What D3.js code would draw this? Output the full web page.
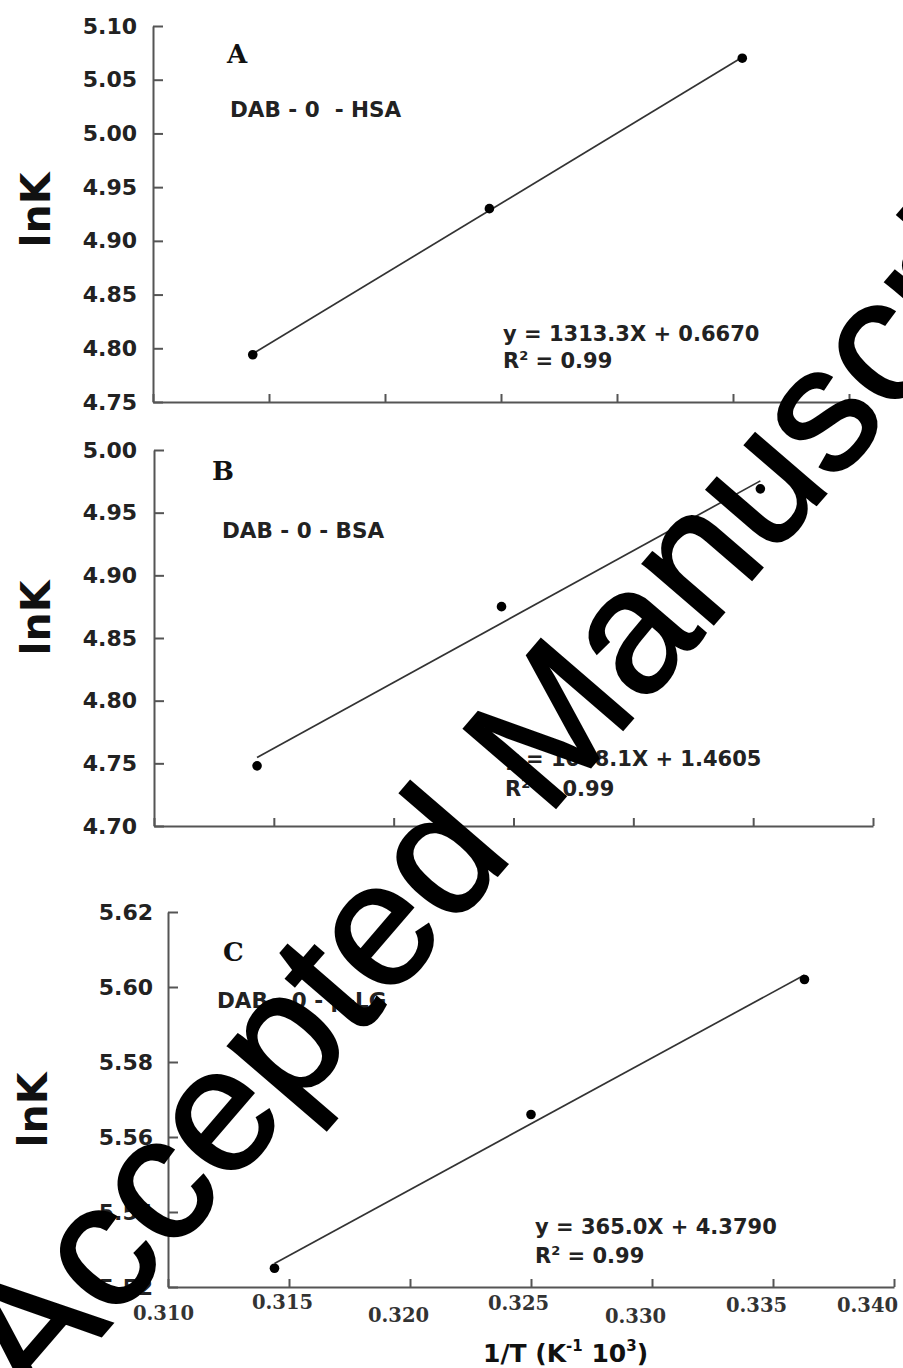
<!DOCTYPE html>
<html>
<head>
<meta charset="utf-8">
<script src="https://cdn.jsdelivr.net/npm/d3@7/dist/d3.min.js"></script>
<style>
    html, body { margin: 0; padding: 0; background: #fff; }
    svg { display: block; }
    .axis path, .axis line { stroke: #555; stroke-width: 2; }
    .ytick text { font-family: "DejaVu Sans", sans-serif; font-weight: bold; font-size: 22px; fill: #222; }
    .xtick text { font-family: "DejaVu Serif", serif; font-weight: bold; font-size: 19.5px; fill: #333; }
</style>
</head>
<body>
<div id="chart"></div>
<script>
        //-------------------------- data --------------------------
        var xTickValues = [0.310, 0.315, 0.320, 0.325, 0.330, 0.335, 0.340];
        var yTicksA = [4.75, 4.80, 4.85, 4.90, 4.95, 5.00, 5.05, 5.10];
        var yTicksB = [4.70, 4.75, 4.80, 4.85, 4.90, 4.95, 5.00];
        var yTicksC = [5.52, 5.54, 5.56, 5.58, 5.60, 5.62];

        // 1/T values and lnK values per protein
        var invT_HSA = [0.3143, 0.3245, 0.3354];
        var lnK_HSA = [4.794, 4.930, 5.070];
        var invT_BSA = [0.3143, 0.3245, 0.3353];
        var lnK_BSA = [4.748, 4.875, 4.969];
        var invT_BLG = [0.3144, 0.3250, 0.3363];
        var lnK_BLG = [5.525, 5.566, 5.602];

        var panelLetters = ["A", "B", "C"];
        var systemNames = ["DAB - 0  - HSA", "DAB - 0 - BSA", "DAB - 0 - \u03B2-LG"];
        var equations = ["y = 1313.3X + 0.6670", "y = 1048.1X + 1.4605", "y = 365.0X + 4.3790"];
        var r2Values = ["0.99", "0.99", "0.99"];
        //-------------------------- layout --------------------------
        var W = 903, H = 1368;
        var panels = [
            { left: 153, right: 849, top: 26, bottom: 402, yTicks: yTicksA, xs: invT_HSA, ys: lnK_HSA,
              letter: [227, 63], name: [230, 117], eq: [503, 341], r2: [503, 368], ylab: [50, 210], pad: 16 },
            { left: 154, right: 873, top: 450, bottom: 826, yTicks: yTicksB, xs: invT_BSA, ys: lnK_BSA,
              letter: [212, 480], name: [222, 538], eq: [505, 766], r2: [505, 796], ylab: [50, 618], pad: 17 },
            { left: 168, right: 894, top: 912, bottom: 1287, yTicks: yTicksC, xs: invT_BLG, ys: lnK_BLG,
              letter: [223, 961], name: [217, 1008], eq: [535, 1234], r2: [535, 1263], ylab: [47, 1110], pad: 15,
              xLabels: true }
        ];
        // small nudges of the x tick labels in panel C (they sit unevenly in the original)
        var xLabelDx = [-5, -7, -12, -13, -17, -17, -27];
        var xLabelDy = [5, -6, 7, -5, 8, -3, -3];

        var svg = d3.select("#chart")
            .append("svg")
            .attr("width", W)
            .attr("height", H);

        // least squares line
        function fit(xs, ys) {
            var mx = d3.mean(xs), my = d3.mean(ys);
            var sxy = d3.sum(xs, function (x, i) { return (x - mx) * (ys[i] - my); });
            var sxx = d3.sum(xs, function (x) { return (x - mx) * (x - mx); });
            var b = sxy / sxx;
            return function (x) { return my + b * (x - mx); };
        }

        var sans = "'DejaVu Sans', sans-serif";

        panels.forEach(function (p, k) {
            var x = d3.scaleLinear().domain([0.310, 0.340]).range([p.left, p.right]);
            var y = d3.scaleLinear().domain(d3.extent(p.yTicks)).range([p.bottom, p.top]);
            var g = svg.append("g");

            // axes
            var xAxis = d3.axisBottom(x).tickValues(xTickValues)
                .tickSizeInner(-8).tickSizeOuter(0).tickPadding(14)
                .tickFormat(p.xLabels ? d3.format(".3f") : "");
            var gx = g.append("g")
                .attr("class", "axis xtick")
                .attr("transform", "translate(0," + p.bottom + ")")
                .call(xAxis);
            if (p.xLabels) {
                gx.selectAll(".tick text")
                    .attr("dx", function (d, i) { return xLabelDx[i]; })
                    .attr("y", function (d, i) { return 14 + xLabelDy[i]; });
            }

            var yAxis = d3.axisLeft(y).tickValues(p.yTicks)
                .tickSizeInner(-10).tickSizeOuter(0).tickPadding(p.pad)
                .tickFormat(d3.format(".2f"));
            g.append("g")
                .attr("class", "axis ytick")
                .attr("transform", "translate(" + p.left + ",0)")
                .call(yAxis);
            g.selectAll(".domain").attr("fill", "none");
            g.selectAll("text").attr("stroke", "none");

            // fitted line over the data range
            var f = fit(p.xs, p.ys);
            var ext = d3.extent(p.xs);
            g.append("path")
                .datum(ext)
                .attr("d", d3.line().x(function (d) { return x(d); }).y(function (d) { return y(f(d)); }))
                .attr("fill", "none")
                .attr("stroke", "#333")
                .attr("stroke-width", 1.7);

            // points
            g.selectAll(".pt")
                .data(p.xs)
                .join("circle")
                .attr("class", "pt")
                .attr("cx", function (d) { return x(d); })
                .attr("cy", function (d, i) { return y(p.ys[i]); })
                .attr("r", 4.8)
                .attr("fill", "#000");

            // texts
            g.append("text")
                .attr("x", p.letter[0]).attr("y", p.letter[1])
                .style("font-family", "'DejaVu Serif', serif")
                .style("font-weight", "bold")
                .style("font-size", "26px")
                .attr("fill", "#111")
                .text(panelLetters[k]);

            g.append("text")
                .attr("x", p.name[0]).attr("y", p.name[1])
                .style("font-family", sans)
                .style("font-weight", "bold")
                .style("font-size", "21.5px")
                .style("white-space", "pre")
                .attr("fill", "#222")
                .text(systemNames[k]);

            g.append("text")
                .attr("x", p.eq[0]).attr("y", p.eq[1])
                .style("font-family", sans)
                .style("font-weight", "bold")
                .style("font-size", "21px")
                .attr("fill", "#222")
                .text(equations[k]);

            var r2 = g.append("text")
                .attr("x", p.r2[0]).attr("y", p.r2[1])
                .style("font-family", sans)
                .style("font-weight", "bold")
                .style("font-size", "21px")
                .attr("fill", "#222");
            r2.append("tspan").text("R");
            r2.append("tspan").attr("dy", -8).style("font-size", "13px").text("2");
            r2.append("tspan").attr("dy", 8).text(" = " + r2Values[k]);

            g.append("text")
                .attr("transform", "translate(" + p.ylab[0] + "," + p.ylab[1] + ") rotate(-90)")
                .attr("text-anchor", "middle")
                .style("font-family", sans)
                .style("font-weight", "bold")
                .style("font-size", "41px")
                .attr("fill", "#111")
                .text("lnK");
        });

        // x axis title
        var xt = svg.append("text")
            .attr("x", 483).attr("y", 1362)
            .style("font-family", sans)
            .style("font-weight", "bold")
            .style("font-size", "25px")
            .attr("fill", "#111");
        xt.append("tspan").text("1/T (K");
        xt.append("tspan").attr("dy", -11).style("font-size", "15px").text("-1");
        xt.append("tspan").attr("dy", 11).text(" 10");
        xt.append("tspan").attr("dy", -11).style("font-size", "15px").text("3");
        xt.append("tspan").attr("dy", 11).text(")");

        // watermark
        svg.append("text")
            .attr("transform", "translate(36,1412) rotate(-49.3)")
            .style("font-family", "'Liberation Sans', Arial, sans-serif")
            .style("font-size", "176px")
            .attr("fill", "#000")
            .attr("stroke", "#000")
            .attr("stroke-width", 2.5)
            .text("Accepted Manuscript");
</script>
</body>
</html>
